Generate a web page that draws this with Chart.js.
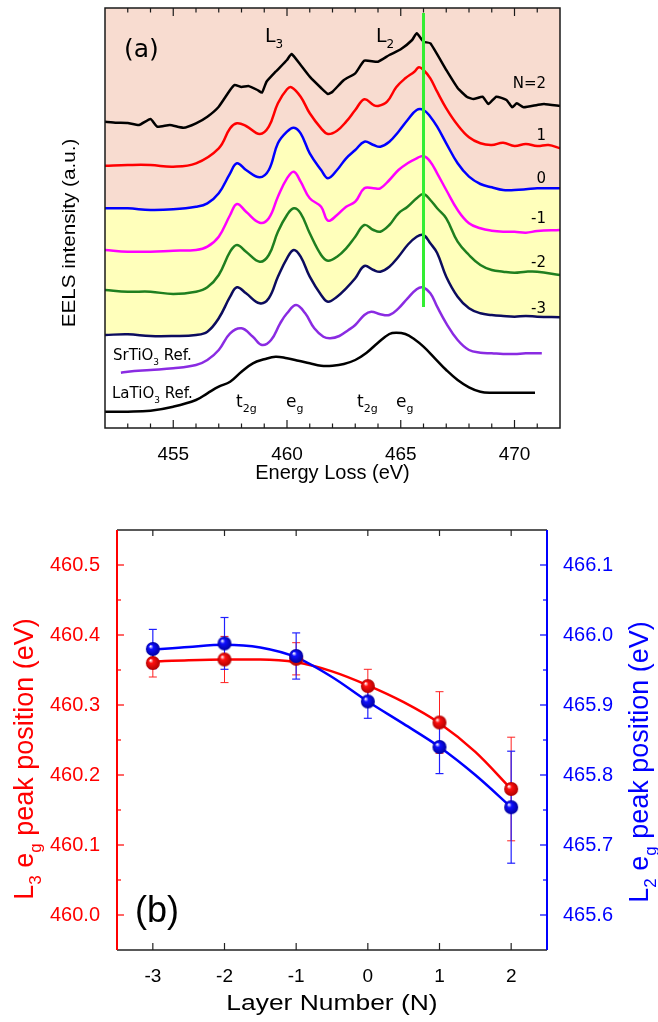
<!DOCTYPE html>
<html><head><meta charset="utf-8">
<script src="https://cdn.jsdelivr.net/npm/chart.js@4.4.1/dist/chart.umd.min.js"></script>
<style>
html,body{margin:0;padding:0;background:#fff;}
#wrap{position:relative;width:658px;height:1022px;overflow:hidden;}
#ca{position:absolute;left:0;top:0;}
#cb{position:absolute;left:0;top:500px;}
</style></head><body>
<div id="wrap"><canvas id="ca" width="658" height="500"></canvas><canvas id="cb" width="658" height="522"></canvas></div>
<script>
// ---------- Panel (a): EELS spectra (intensity in a.u., vertically offset as in the figure) ----------
const energyTicks = [455, 460, 465, 470];
const energyMinorTicks = [453, 454, 456, 457, 458, 459, 461, 462, 463, 464, 466, 467, 468, 469, 471];
const edgeEnergy = [466, 466];
const edgeMarker = [121, 415];

const energyN2 = [452,452.5,453,453.5,454,454.3,454.85,455.45,456,456.5,457,457.5,457.7,458,458.3,458.7,458.9,459.1,459.5,460,460.2,460.6,461,461.5,461.8,462,462.5,463,463.4,464,464.5,465,465.5,465.7,466,466.3,467,467.5,467.9,468.2,468.6,468.85,469.2,469.65,469.9,470.1,470.4,471,471.3,472];
const intensityN2 = [306.3,305.3,305,303,309,301.3,303,300.3,304.7,311.3,321.3,338,343,341,342,338,335.3,346.3,356.3,368,374,363,351.3,340,334,336.3,348,354.7,367.3,366.3,373,378.7,388,394.7,386.3,384.7,358,340,331.3,329,331.3,324,331.3,328,320.7,324.7,320.7,323,324,322];

const energyN1 = [452,453,454,455,456,457,457.5,457.8,458.2,458.8,459.2,459.6,460,460.2,460.6,461,461.5,461.8,462.2,462.6,463,463.4,463.8,464,464.4,464.8,465.2,465.6,465.8,466,466.3,466.6,467,467.5,468,468.5,469,469.5,470,470.5,471,471.5,472];
const intensityN1 = [262.3,263,263,261.3,264.7,279.7,299.7,304.7,302,294,301.3,324.7,338.7,340.7,331.3,314.7,299.7,294,297.3,306.3,318,328.7,323,322,326.3,340.7,349.7,356.3,360.7,358,349.7,336.3,319.7,303,290.7,284.7,283,285.3,282,284,282,283,279.7];

const energyLayer = [452,453,454,455,456,456.5,457,457.5,457.8,458.2,458.8,459.2,459.6,460,460.3,460.6,461,461.5,461.8,462.2,462.6,463,463.4,463.8,464.1,464.5,464.9,465.3,465.7,466,466.3,466.6,467,467.5,468,468.5,469,469.5,470,470.5,471,472];
const intensityN0 = [219.7,219.7,218,218.7,221.3,224.7,234.7,254.7,264.7,258,250.7,258,284.7,296.3,300.3,294.7,274.7,258,249.7,258,269.7,278,286.3,283,281.3,286.3,296.3,308,318,318,311.3,301.3,284.7,264.7,251.3,244,240.7,238,238,238.7,239.7,239.7];
const intensityNm1 = [178,176.3,176.3,177.3,178,181.3,191.3,213,224,216.3,205.3,209.7,231.3,249.7,256.3,246.3,229.7,221.3,207.3,213,221.3,226.3,239.7,239.7,239.7,248,258,264.7,269.7,272,266.3,254.7,238,218,204.7,199.7,197.3,196.3,196.3,195.3,197,198];
const intensityNm2 = [138,136.3,136.3,134,136.3,140.7,153,176.3,183,176.3,166.3,173,196.3,213,219.7,214.7,194.7,173,167.3,171.3,179.7,191.3,203,198,196.3,203,214.7,221.3,229.7,234,228,219.7,209.7,186.3,173,163,158,156.3,155.3,156.3,156.3,153];
const intensityNm3 = [93,93.7,92,92,93,96.3,109.7,131.3,140.7,134.7,124.7,129.7,151.3,169.7,178,171.3,151.3,133,126.3,131.3,139.7,149.7,162,158,156.3,161.3,171.3,183,191.3,193,184.7,175,151.3,131.3,119.7,114.7,113,112,111.3,112,111.3,110.7];

const energySTO = [452.7,453,454,455,456,456.5,457,457.5,458,458.5,458.9,459.3,459.7,460,460.4,460.8,461.2,461.6,461.9,462.3,462.7,463,463.4,463.7,464.1,464.5,464.9,465.3,465.7,465.95,466.3,466.6,467,467.5,468,468.5,469,469.5,470,470.5,471.2];
const intensitySTO = [55.3,56.3,58,59.7,63,68,78,94.7,99.7,91.3,83,88,104.7,114.7,123,114.7,99.7,91.3,89.7,92,98,103,113,116.3,113.7,113,119.7,129.7,138.7,140.7,134.7,121.3,104.7,88,78,75.3,74.7,74,74,74.7,74.7];

const energyLTO = [452,453,454,455,456,456.5,457,457.5,458,458.5,459,459.5,460,460.5,461,461.5,462,462.5,463,463.5,464,464.5,464.8,465.2,465.6,466,466.5,467,467.5,468,468.5,469,470,470.9];
const intensityLTO = [16.3,16.3,17.3,21.3,28,34.7,41.3,46.3,56.3,64.7,68.7,71.3,69.7,67.3,64.7,62.3,62.3,64,68,75.3,85.3,94,95.3,94,88.7,81.3,69.7,58,48,40.7,36.3,35.3,35.3,35.3];

// ---------- Panel (b): peak positions ----------
const layerN = [-3, -2, -1, 0, 1, 2];
const l3Peak = [460.36, 460.365, 460.366, 460.327, 460.275, 460.18];
const l3Err = [0.02, 0.033, 0.023, 0.024, 0.044, 0.074];
const l2Peak = [465.98, 465.988, 465.97, 465.905, 465.84, 465.754];
const l2Err = [0.028, 0.037, 0.033, 0.024, 0.038, 0.08];
const fitN = [-3, -2.5, -2, -1.5, -1, -0.5, 0, 0.5, 1, 1.5, 2];
const l3Fit = [460.362, 460.364, 460.365, 460.365, 460.361, 460.348, 460.328, 460.304, 460.274, 460.233, 460.18];
const l2Fit = [465.979, 465.983, 465.986, 465.982, 465.968, 465.94, 465.905, 465.873, 465.84, 465.8, 465.754];
const layerTicks = [-3, -2, -1, 0, 1, 2];
const l3Ticks = [460.0, 460.1, 460.2, 460.3, 460.4, 460.5];
const l3Minor = [460.05, 460.15, 460.25, 460.35, 460.45];
const l2Ticks = [465.6, 465.7, 465.8, 465.9, 466.0, 466.1];
const l2Minor = [465.65, 465.75, 465.85, 465.95, 466.05];

Chart.defaults.font.family = "'Liberation Sans', Arial, sans-serif";
Chart.defaults.color = '#000';

const toXY = (xs, ys) => xs.map((x, i) => ({x, y: ys[i]}));

// text with subscripts; sx stretches along the text direction
function richText(ctx, parts, x, y, align, size, family, color, sx) {
  sx = sx || 1;
  ctx.save();
  ctx.translate(x, y); ctx.scale(sx, 1);
  ctx.fillStyle = color; ctx.textBaseline = 'alphabetic'; ctx.textAlign = 'left';
  const fm = size + 'px ' + family, fs = Math.round(size * 0.62) + 'px ' + family;
  let w = 0;
  for (const [t, s] of parts) { ctx.font = s ? fs : fm; w += ctx.measureText(t).width; }
  let cx = align === 'center' ? -w / 2 : (align === 'right' ? -w : 0);
  for (const [t, s] of parts) {
    ctx.font = s ? fs : fm;
    ctx.fillText(t, cx, s ? size * 0.3 : 0);
    cx += ctx.measureText(t).width;
  }
  ctx.restore();
}
function vline(ctx, x, y1, y2) { ctx.beginPath(); ctx.moveTo(x, y1); ctx.lineTo(x, y2); ctx.stroke(); }
function hline(ctx, y, x1, x2) { ctx.beginPath(); ctx.moveTo(x1, y); ctx.lineTo(x2, y); ctx.stroke(); }

const PINK = '#f8dcd0', YELLOW = '#ffffbb';
const GOTHIC = "'DejaVu Sans', sans-serif";
const ARIAL = "'Liberation Sans', Arial";

const panelAPlugin = {
  id: 'panelA',
  afterDraw(chart) {
    const {ctx, chartArea: a, scales: {x}} = chart;
    ctx.save();
    ctx.strokeStyle = '#1a1a1a'; ctx.lineWidth = 1.5;
    ctx.strokeRect(a.left, a.top, a.right - a.left, a.bottom - a.top);
    ctx.lineWidth = 1.2;
    energyTicks.forEach(v => { const p = x.getPixelForValue(v); vline(ctx, p, a.bottom, a.bottom - 8); vline(ctx, p, a.top, a.top + 8); });
    energyMinorTicks.forEach(v => { const p = x.getPixelForValue(v); vline(ctx, p, a.bottom, a.bottom - 4.5); vline(ctx, p, a.top, a.top + 4.5); });
    richText(ctx, [['Energy Loss (eV)', false]], (a.left + a.right) / 2, 479, 'center', 20, ARIAL, '#000');
    ctx.save(); ctx.translate(75, 233); ctx.rotate(-Math.PI / 2);
    richText(ctx, [['EELS intensity (a.u.)', false]], 0, 0, 'center', 18, ARIAL, '#000', 1.15);
    ctx.restore();
    richText(ctx, [['(a)', false]], 124, 57, 'left', 25, GOTHIC, '#000');
    richText(ctx, [['L', false], ['3', true]], 265, 42, 'left', 19, GOTHIC, '#000');
    richText(ctx, [['L', false], ['2', true]], 376, 42, 'left', 19, GOTHIC, '#000');
    const lbl = [['N=2', 88], ['1', 140], ['0', 183], ['-1', 223], ['-2', 267], ['-3', 313]];
    lbl.forEach(([t, yy]) => richText(ctx, [[t, false]], 546, yy, 'right', 15, GOTHIC, '#000'));
    richText(ctx, [['SrTiO', false], ['3', true], [' Ref.', false]], 113, 360, 'left', 15, GOTHIC, '#000');
    richText(ctx, [['LaTiO', false], ['3', true], [' Ref.', false]], 112, 398, 'left', 15, GOTHIC, '#000');
    richText(ctx, [['t', false], ['2g', true]], 236, 407, 'left', 17, GOTHIC, '#000');
    richText(ctx, [['e', false], ['g', true]], 286, 407, 'left', 17, GOTHIC, '#000');
    richText(ctx, [['t', false], ['2g', true]], 357, 407, 'left', 17, GOTHIC, '#000');
    richText(ctx, [['e', false], ['g', true]], 396, 407, 'left', 17, GOTHIC, '#000');
    ctx.restore();
  }
};

const line = (xs, ys, color, extra) => Object.assign({
  data: toXY(xs, ys), borderColor: color, borderWidth: 2.5, pointRadius: 0, fill: false, tension: 0.4
}, extra || {});

new Chart(document.getElementById('ca'), {
  type: 'line',
  data: {
    datasets: [
      {data: toXY(edgeEnergy, edgeMarker), borderColor: '#33ee33', borderWidth: 3, pointRadius: 0, fill: false, order: 0},
      line(energyN2, intensityN2, '#000000', {tension: 0.15, order: 1}),
      line(energyN1, intensityN1, '#ff0000', {order: 2}),
      line(energyLayer, intensityN0, '#0000ff', {fill: 'end', backgroundColor: PINK, order: 3}),
      line(energyLayer, intensityNm1, '#ff00ff', {order: 4}),
      line(energyLayer, intensityNm2, '#1f7f1f', {order: 5}),
      line(energyLayer, intensityNm3, '#0c0c5e', {fill: 3, backgroundColor: YELLOW, order: 6}),
      line(energySTO, intensitySTO, '#8a2be2', {order: 7}),
      line(energyLTO, intensityLTO, '#000000', {order: 8})
    ]
  },
  options: {
    responsive: false, animation: false, events: [],
    layout: {padding: {left: 105, right: 98, top: 8, bottom: 0}},
    plugins: {legend: {display: false}, tooltip: {enabled: false}, filler: {drawTime: 'beforeDatasetsDraw', propagate: false}},
    scales: {
      x: {type: 'linear', min: 452, max: 472,
        afterBuildTicks: s => { s.ticks = energyTicks.map(v => ({value: v})); },
        afterFit: s => { s.height = 72; },
        ticks: {font: {size: 19}, color: '#000', padding: 7},
        grid: {display: false}, border: {display: false}},
      y: {type: 'linear', min: 0, max: 420, display: false}
    }
  },
  plugins: [panelAPlugin]
});

// ---------- Panel (b) ----------
function sphere(base, dark, r) {
  const c = document.createElement('canvas');
  c.width = c.height = 2 * r + 2;
  const g = c.getContext('2d'), cc = r + 1;
  const grad = g.createRadialGradient(cc - r * 0.35, cc - r * 0.4, r * 0.05, cc, cc, r);
  grad.addColorStop(0, '#ffffff'); grad.addColorStop(0.3, base); grad.addColorStop(1, dark);
  g.fillStyle = grad; g.beginPath(); g.arc(cc, cc, r, 0, Math.PI * 2); g.fill();
  return c;
}
const redBall = sphere('#ff1010', '#b00000', 7);
const blueBall = sphere('#1010ff', '#0000a0', 7);

const panelBPlugin = {
  id: 'panelB',
  beforeDatasetsDraw(chart) {
    const {ctx, scales: {x, yL, yR}} = chart;
    ctx.save();
    const bars = (peaks, errs, sc, color, lw) => {
      ctx.strokeStyle = color; ctx.lineWidth = lw;
      peaks.forEach((p, i) => {
        const px = x.getPixelForValue(layerN[i]);
        const t = sc.getPixelForValue(p + errs[i]), b = sc.getPixelForValue(p - errs[i]);
        vline(ctx, px, t, b); hline(ctx, t, px - 4, px + 4); hline(ctx, b, px - 4, px + 4);
      });
    };
    bars(l3Peak, l3Err, yL, '#ff2020', 1);
    bars(l2Peak, l2Err, yR, '#2020ff', 1.2);
    ctx.restore();
  },
  afterDraw(chart) {
    const {ctx, chartArea: a, scales: {x, yL, yR}} = chart;
    ctx.save();
    ctx.lineWidth = 1.5; ctx.strokeStyle = '#222';
    hline(ctx, a.top, a.left, a.right); hline(ctx, a.bottom, a.left, a.right);
    ctx.lineWidth = 1.2;
    layerTicks.forEach(v => { const p = x.getPixelForValue(v); vline(ctx, p, a.bottom, a.bottom - 7); vline(ctx, p, a.top, a.top + 6); });
    ctx.strokeStyle = '#ff0000'; ctx.lineWidth = 2; vline(ctx, a.left, a.top, a.bottom);
    ctx.lineWidth = 1.2;
    l3Ticks.forEach(v => { const p = yL.getPixelForValue(v); hline(ctx, p, a.left, a.left + 7); });
    l3Minor.forEach(v => { const p = yL.getPixelForValue(v); hline(ctx, p, a.left, a.left + 4); });
    ctx.strokeStyle = '#0000ff'; ctx.lineWidth = 2; vline(ctx, a.right, a.top, a.bottom);
    ctx.lineWidth = 1.2;
    l2Ticks.forEach(v => { const p = yR.getPixelForValue(v); hline(ctx, p, a.right, a.right - 7); });
    l2Minor.forEach(v => { const p = yR.getPixelForValue(v); hline(ctx, p, a.right, a.right - 4); });
    richText(ctx, [['Layer Number (N)', false]], (a.left + a.right) / 2, 510, 'center', 22, ARIAL, '#000', 1.2);
    ctx.save(); ctx.translate(33, 259); ctx.rotate(-Math.PI / 2);
    richText(ctx, [['L', false], ['3', true], [' e', false], ['g', true], [' peak position (eV)', false]], 0, 0, 'center', 27, ARIAL, '#ff0000');
    ctx.restore();
    ctx.save(); ctx.translate(648, 262); ctx.rotate(-Math.PI / 2);
    richText(ctx, [['L', false], ['2', true], [' e', false], ['g', true], [' peak position (eV)', false]], 0, 0, 'center', 27, ARIAL, '#0000ff');
    ctx.restore();
    richText(ctx, [['(b)', false]], 135, 422, 'left', 36, ARIAL, '#000');
    ctx.restore();
  }
};

new Chart(document.getElementById('cb'), {
  type: 'line',
  data: {
    datasets: [
      {data: toXY(layerN, l2Peak), yAxisID: 'yR', showLine: false, pointStyle: blueBall, pointRadius: 7, order: 0},
      {data: toXY(layerN, l3Peak), yAxisID: 'yL', showLine: false, pointStyle: redBall, pointRadius: 7, order: 1},
      {data: toXY(fitN, l2Fit), yAxisID: 'yR', borderColor: '#0000ff', borderWidth: 2.5, pointRadius: 0, cubicInterpolationMode: 'monotone', fill: false, order: 2},
      {data: toXY(fitN, l3Fit), yAxisID: 'yL', borderColor: '#ff0000', borderWidth: 2.5, pointRadius: 0, cubicInterpolationMode: 'monotone', fill: false, order: 3}
    ]
  },
  options: {
    responsive: false, animation: false, events: [],
    layout: {padding: {left: 0, right: 0, top: 30, bottom: 0}},
    plugins: {legend: {display: false}, tooltip: {enabled: false}},
    scales: {
      x: {type: 'linear', min: -3.5, max: 2.5,
        afterBuildTicks: s => { s.ticks = layerTicks.map(v => ({value: v})); },
        afterFit: s => { s.height = 72; },
        ticks: {font: {size: 19}, color: '#000', padding: 7},
        grid: {display: false}, border: {display: false}},
      yL: {type: 'linear', position: 'left', min: 459.95, max: 460.55,
        afterBuildTicks: s => { s.ticks = l3Ticks.map(v => ({value: v})); },
        afterFit: s => { s.width = 117; },
        ticks: {font: {size: 20}, color: '#ff0000', padding: 9, callback: v => v.toFixed(1)},
        grid: {display: false}, border: {display: false}},
      yR: {type: 'linear', position: 'right', min: 465.55, max: 466.15,
        afterBuildTicks: s => { s.ticks = l2Ticks.map(v => ({value: v})); },
        afterFit: s => { s.width = 111; },
        ticks: {font: {size: 20}, color: '#0000ff', padding: 8, callback: v => v.toFixed(1)},
        grid: {display: false}, border: {display: false}}
    }
  },
  plugins: [panelBPlugin]
});
</script>
</body></html>
